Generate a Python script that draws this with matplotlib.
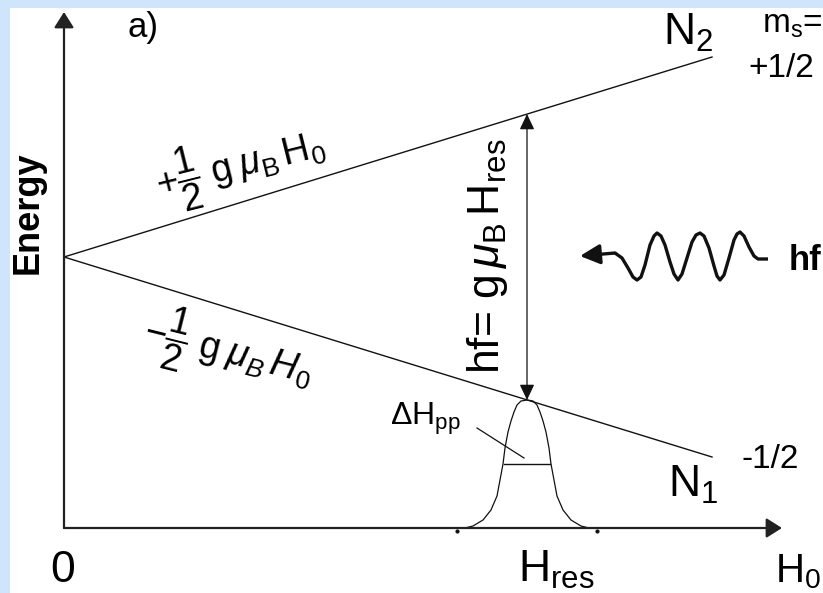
import numpy as np
import matplotlib
matplotlib.use("Agg")
import matplotlib.pyplot as plt
from matplotlib import font_manager
from matplotlib.patches import Rectangle

# narrow sans if we have it, plain Liberation otherwise
names = {f.name for f in font_manager.fontManager.ttflist}
NARROW = 'Liberation Sans Narrow' if 'Liberation Sans Narrow' in names else 'Liberation Sans'

plt.rcParams['font.family'] = [NARROW, 'DejaVu Sans']
plt.rcParams['mathtext.fontset'] = 'custom'
plt.rcParams['mathtext.rm'] = NARROW
plt.rcParams['mathtext.it'] = NARROW + ':italic'
plt.rcParams['mathtext.bf'] = NARROW + ':bold'

# diagram data (offsets from the axis corner)
H_axis_end = 718
E_axis_end = 516
H_level = [0, 648]
E_upper = [271, 471]     # m_s = +1/2
E_lower = [271, 71]      # m_s = -1/2
H_res = 463
E_res_upper = 414
E_res_lower = 128

# absorption line (half profile, mirrored)
line_dx = [0, 6, 10, 13, 16, 19, 22, 24, 27, 30, 36, 44, 54, 62]
line_h = [128, 127, 123, 116, 107, 96, 80, 64, 48, 32, 18, 8, 2, 0]
dH_pp_half = 23
dH_pp_level = 64

# incoming photon, first point is the arrow tip
photon_x = [516, 551, 558, 564, 569, 573, 577, 581, 586, 590, 593, 597, 601, 606, 610, 614,
            618, 623, 628, 632, 636, 640, 645, 650, 653, 656, 660, 665, 670, 673, 676, 680,
            685, 690, 694, 704]
photon_y = [272, 275, 270, 260, 251, 248, 251, 263, 283, 292, 295, 292, 283, 266, 254, 248,
            254, 270, 286, 293, 295, 292, 280, 262, 252, 248, 253, 270, 288, 294, 296, 292,
            281, 272, 269, 269]

fig = plt.figure(figsize=(8.23, 5.93), dpi=100)
fig.patch.set_facecolor('#cfe5fb')
ax = fig.add_axes([0, 0, 1, 1])
ax.set_facecolor('none')
ax.set_xlim(-64, 759)
ax.set_ylim(-65, 528)
ax.axis('off')
ax.add_patch(Rectangle((10 / 823, 0), 813 / 823, 585 / 593, transform=fig.transFigure,
                       facecolor='white', edgecolor='none', zorder=0))

# axes with arrow heads
axis_arrow = dict(arrowstyle='-|>,head_length=0.95,head_width=0.6', mutation_scale=10,
                  lw=1.6, color='#222222', shrinkA=0, shrinkB=0)
ax.annotate('', xy=(H_axis_end, 0), xytext=(0, 0), arrowprops=axis_arrow)
ax.annotate('', xy=(0, E_axis_end), xytext=(0, 0), arrowprops=axis_arrow)

# Zeeman levels
ax.plot(H_level, E_upper, color='#111111', lw=1.0)
ax.plot(H_level, E_lower, color='#111111', lw=1.0)

# resonance arrow
ax.annotate('', xy=(H_res, E_res_upper), xytext=(H_res, E_res_lower),
            arrowprops=dict(arrowstyle='<|-|>,head_length=0.95,head_width=0.45', mutation_scale=10,
                            lw=0.9, color='#111111', shrinkA=0, shrinkB=0))

# absorption line
dx = np.array(line_dx)
h = np.array(line_h)
prof_x = np.concatenate([H_res - dx[::-1], H_res + dx[1:]])
prof_y = np.concatenate([h[::-1], h[1:]])
ax.plot(prof_x, prof_y, color='#111111', lw=0.9)
ax.plot([H_res - 70, H_res + 70], [-3, -3], ls='none', marker='o', ms=2, color='#111111')
ax.plot([H_res - dH_pp_half, H_res + dH_pp_half], [dH_pp_level, dH_pp_level], color='#111111', lw=1.0)
ax.plot([413, 460], [100, 70], color='#111111', lw=0.9)
ax.text(326, 103, r'$\Delta$H$_{\mathrm{pp}}$', fontsize=23, ha='left', va='baseline')

# photon
ax.plot(photon_x[1:], photon_y[1:], color='#111111', lw=2.4, solid_joinstyle='round',
        solid_capstyle='butt')
ax.annotate('', xy=(photon_x[0], photon_y[0]), xytext=(photon_x[1], photon_y[1]),
            arrowprops=dict(arrowstyle='-|>,head_length=1.2,head_width=0.6', mutation_scale=10,
                            lw=2.4, color='#111111', shrinkA=0, shrinkB=0))
ax.text(741, 268, 'hf', fontsize=25, fontweight='bold', ha='center', va='center')

# labels
ax.text(79, 501, 'a)', fontsize=25, ha='center', va='center', family='Liberation Sans')
ax.text(-36, 315, 'Energy', rotation=90, fontsize=26, fontweight='bold', ha='center', va='center',
        family='Liberation Sans')
ax.text(-1, -54, '0', fontsize=32, ha='center', va='baseline')
ax.text(454, -54, r'H$_{\mathrm{res}}$', fontsize=32, ha='left', va='baseline')
ax.text(711, -54, r'H$_{0}$', fontsize=29, ha='left', va='baseline')
ax.text(599, 483, r'N$_{2}$', fontsize=32, ha='left', va='baseline')
ax.text(604, 31, r'N$_{1}$', fontsize=32, ha='left', va='baseline')
ax.text(698, 495, r'm$_{\mathrm{s}}$=', fontsize=24, ha='left', va='baseline')
ax.text(684, 451, '+1/2', fontsize=24, ha='left', va='baseline')
ax.text(678, 60, '-1/2', fontsize=24, ha='left', va='baseline')

ax.text(424, 272, r'hf= g$\,\mu_{\mathrm{B}}\,$H$_{\mathrm{res}}$', rotation=90, fontsize=32,
        ha='center', va='center')
ax.text(176, 363, r'$+\dfrac{1}{2}\;\mathrm{g}\;\mu_{\mathrm{B}}\,\mathrm{H}_{0}$', rotation=14,
        fontsize=27, ha='center', va='center', rotation_mode='anchor')
ax.text(164, 176, r'$-\dfrac{1}{2}\;\mathrm{g}\;\mu_{B}\,H_{0}$', rotation=-14,
        fontsize=27, ha='center', va='center', rotation_mode='anchor')

fig.savefig('out.png', dpi=100, facecolor=fig.get_facecolor())
